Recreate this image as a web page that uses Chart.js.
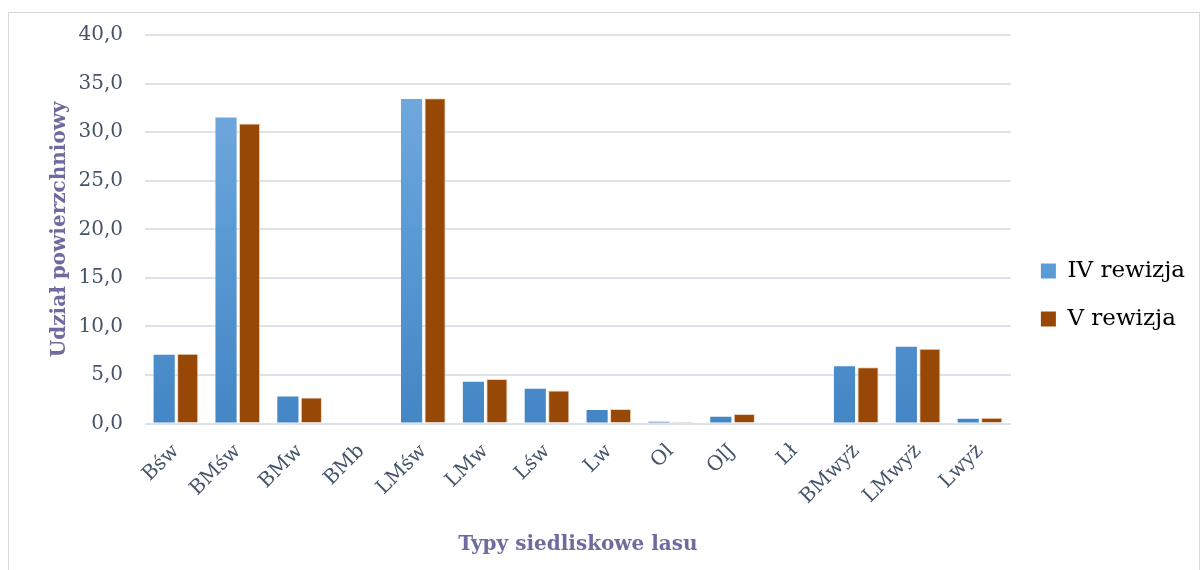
<!DOCTYPE html>
<html><head><meta charset="utf-8">
<script src="https://cdn.jsdelivr.net/npm/chart.js@4.4.1/dist/chart.umd.min.js"></script>
<style>
html,body{margin:0;padding:0;background:#fff;}
#box{position:absolute;left:8px;top:12px;width:1192px;height:558px;border:1px solid #d9d9d9;border-bottom:none;box-sizing:border-box;}
#wrap{position:absolute;left:9px;top:1px;width:1190px;height:569px;}
canvas{display:block;}
</style></head><body>
<div id="box"></div>
<div id="wrap"><canvas id="c"></canvas></div>
<script>
const categories = ["Bśw","BMśw","BMw","BMb","LMśw","LMw","Lśw","Lw","Ol","OlJ","Lł","BMwyż","LMwyż","Lwyż"];
const seriesIV = [7.1,31.5,2.8,0,33.4,4.3,3.6,1.4,0.2,0.7,0,5.9,7.9,0.5];
const seriesV  = [7.2,30.9,2.7,0,33.5,4.6,3.4,1.5,0.2,1.0,0,5.8,7.7,0.6];
const seriesNames = ["IV rewizja","V rewizja"];
const yTicks = {min:0,max:40,step:5};

const serif = "'DejaVu Serif', serif";
const tickColor = "#44546a";
const titleColor = "#6e6b9e";

function blueGrad(ctx){
  const chart = ctx.chart; const a = chart.chartArea;
  if(!a) return "#5b9bd5";
  const g = chart.ctx.createLinearGradient(0,a.top,0,a.bottom);
  g.addColorStop(0,"#7aaee0"); g.addColorStop(0.5,"#5b9bd5"); g.addColorStop(1,"#4485c5");
  return g;
}

const legendShift = {
  id:"legendShift",
  afterLayout(chart){
    const l = chart.legend; if(!l) return;
    l.top += 14; l.bottom += 14;
    l.left += 5; l.right += 5;
  }
};

new Chart(document.getElementById("c"),{
  type:"bar",
  data:{labels:categories,datasets:[
    {label:seriesNames[0],data:seriesIV,backgroundColor:blueGrad,borderWidth:0},
    {label:seriesNames[1],data:seriesV,backgroundColor:"#974706",borderColor:"rgba(230,200,170,0.8)",borderWidth:1}
  ]},
  options:{
    responsive:true,maintainAspectRatio:false,animation:false,
    devicePixelRatio:1,
    categoryPercentage:0.76,barPercentage:0.9,
    layout:{padding:{left:39,right:9,top:0,bottom:9}},
    plugins:{
      legend:{position:"right",align:"center",
        labels:{font:{family:serif,size:23},color:"#000",boxWidth:15,boxHeight:15,padding:25,
          generateLabels(chart){
            return chart.data.datasets.map((d,i)=>({text:d.label,fillStyle:i===0?"#5b9bd5":"#974706",strokeStyle:"transparent",lineWidth:0,datasetIndex:i}));
          }}},
      tooltip:{enabled:false}
    },
    scales:{
      x:{grid:{display:false},border:{display:false},
        ticks:{font:{family:serif,size:20},color:tickColor,maxRotation:45,minRotation:45,padding:8},
        title:{display:true,text:"Typy siedliskowe lasu",font:{family:serif,size:20,weight:"bold"},color:titleColor,padding:{top:16}}},
      y:{min:yTicks.min,max:yTicks.max,
        afterFit(scale){ scale.width = 97; },
        grid:{color:"#dde2ea",lineWidth:2,drawTicks:false},border:{display:false},
        ticks:{stepSize:yTicks.step,font:{family:serif,size:20},color:tickColor,padding:22,
          callback:v=>v.toFixed(1).replace(".",",")},
        title:{display:true,text:"Udział powierzchniowy",font:{family:serif,size:20,weight:"bold"},color:titleColor,padding:{top:0,bottom:0}}}
    }
  },
  plugins:[legendShift]
});
</script></body></html>
